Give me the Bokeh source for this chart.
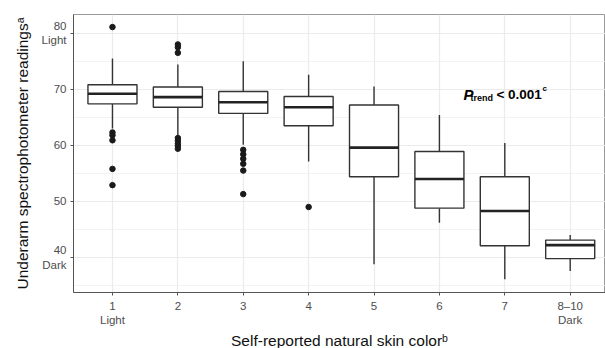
from bokeh.plotting import figure
from bokeh.models import Range1d, FixedTicker, SingleIntervalTicker, ColumnDataSource
from bokeh.core.properties import value
from bokeh.embed import file_html
from bokeh.resources import INLINE

# ---- data ----
categories = [1, 2, 3, 4, 5, 6, 7, 8]
tick_labels = ["1\nLight", "2", "3", "4", "5", "6", "7", "8\u201310\nDark"]
q1 = [67.4, 66.8, 65.7, 63.5, 54.4, 48.8, 42.1, 39.8]
median = [69.2, 68.6, 67.7, 66.8, 59.6, 54.0, 48.3, 42.2]
q3 = [70.8, 70.4, 69.6, 68.7, 67.2, 58.9, 54.4, 43.1]
whisker_lo = [63.0, 61.7, 60.1, 57.1, 38.8, 46.2, 36.1, 37.6]
whisker_hi = [75.5, 74.4, 75.0, 72.6, 70.5, 65.4, 60.4, 44.0]
outlier_cat = [1, 1, 1, 1, 1, 1,
               2, 2, 2, 2, 2, 2, 2, 2,
               3, 3, 3, 3, 3, 3,
               4]
outlier_val = [81.1, 62.3, 61.8, 60.9, 55.8, 52.9,
               78.0, 77.5, 76.5, 61.3, 60.8, 60.3, 59.9, 59.4,
               59.2, 58.4, 57.6, 56.7, 55.5, 51.3,
               49.0]
y_tick_labels = {40: "40\nDark", 50: "50", 60: "60", 70: "70", 80: "80\nLight"}

box_width = 0.75
half = box_width / 2

FONT = "Liberation Sans"
TICK_COLOR = "#4d4d4d"

p = figure(frame_width=532, frame_height=278, output_backend="svg", toolbar_location=None,
           x_range=Range1d(0.404, 8.54), y_range=Range1d(33.75, 83.34),
           min_border_left=73, min_border_right=0, min_border_top=14, min_border_bottom=50)
p.background_fill_color = "white"
p.border_fill_color = "white"
p.outline_line_color = "#9a9a9a"
p.outline_line_width = 1

# grids
p.xaxis.ticker = FixedTicker(ticks=categories)
p.yaxis.ticker = SingleIntervalTicker(interval=10, num_minor_ticks=2)
p.xgrid.grid_line_color = "#ebebeb"
p.xgrid.grid_line_width = 1.2
p.ygrid.grid_line_color = "#ebebeb"
p.ygrid.grid_line_width = 1.2
p.ygrid.minor_grid_line_color = "#f0f0f0"
p.ygrid.minor_grid_line_width = 0.8

# axes
p.xaxis.major_label_overrides = {c: l for c, l in zip(categories, tick_labels)}
p.yaxis.major_label_overrides = y_tick_labels
for ax in (p.xaxis, p.yaxis):
    ax.axis_line_color = "#555555"
    ax.axis_line_width = 1
    ax.major_tick_line_color = "#555555"
    ax.major_tick_out = 3
    ax.major_tick_in = 0
    ax.minor_tick_line_color = None
    ax.major_label_text_font = FONT
    ax.major_label_text_font_size = "11.5px"
    ax.major_label_text_color = TICK_COLOR
    ax.axis_label_text_font = FONT
    ax.axis_label_text_font_size = "15.5px"
    ax.axis_label_text_font_style = "normal"
    ax.axis_label_text_color = "#111111"
p.xaxis.major_label_standoff = 4
p.yaxis.major_label_standoff = 3
p.xaxis.axis_label = "Self-reported natural skin color\u1d47"
p.yaxis.axis_label = "Underarm spectrophotometer readings\u1d43"
p.xaxis.axis_label_standoff = 3
p.yaxis.axis_label_standoff = 8

# boxes
src = ColumnDataSource(dict(
    x=categories, q1=q1, q3=q3, med=median, lo=whisker_lo, hi=whisker_hi,
    x0=[c - half for c in categories], x1=[c + half for c in categories]))
line_col = "#333333"
p.segment(x0="x", y0="q3", x1="x", y1="hi", source=src, line_color=line_col, line_width=1.4)
p.segment(x0="x", y0="q1", x1="x", y1="lo", source=src, line_color=line_col, line_width=1.4)
p.vbar(x="x", width=box_width, top="q3", bottom="q1", source=src,
       fill_color="white", line_color=line_col, line_width=1.4)
p.segment(x0="x0", y0="med", x1="x1", y1="med", source=src, line_color="#222222", line_width=2.6)
p.scatter(x=outlier_cat, y=outlier_val, size=5.5, color="#1a1a1a")

# P_trend annotation
ann_x, ann_y = 6.367, 69.0
p.text(x=[ann_x], y=[ann_y], text=["P"], text_font=value(FONT), text_font_size="15px",
       text_font_style="bold italic", text_color="black", text_baseline="alphabetic")
p.text(x=[ann_x], y=[ann_y], text=["trend"], x_offset=7, y_offset=3.5, text_font=value(FONT),
       text_font_size="9px", text_font_style="bold", text_color="black", text_baseline="alphabetic")
p.text(x=[ann_x], y=[ann_y], text=["< 0.001"], x_offset=33, text_font=value(FONT),
       text_font_size="13.5px", text_font_style="bold", text_color="black", text_baseline="alphabetic")
p.text(x=[ann_x], y=[ann_y], text=["c"], x_offset=79, y_offset=-6, text_font=value(FONT),
       text_font_size="8px", text_font_style="bold", text_color="black", text_baseline="alphabetic")

open("out.html", "w").write(file_html(p, INLINE))
